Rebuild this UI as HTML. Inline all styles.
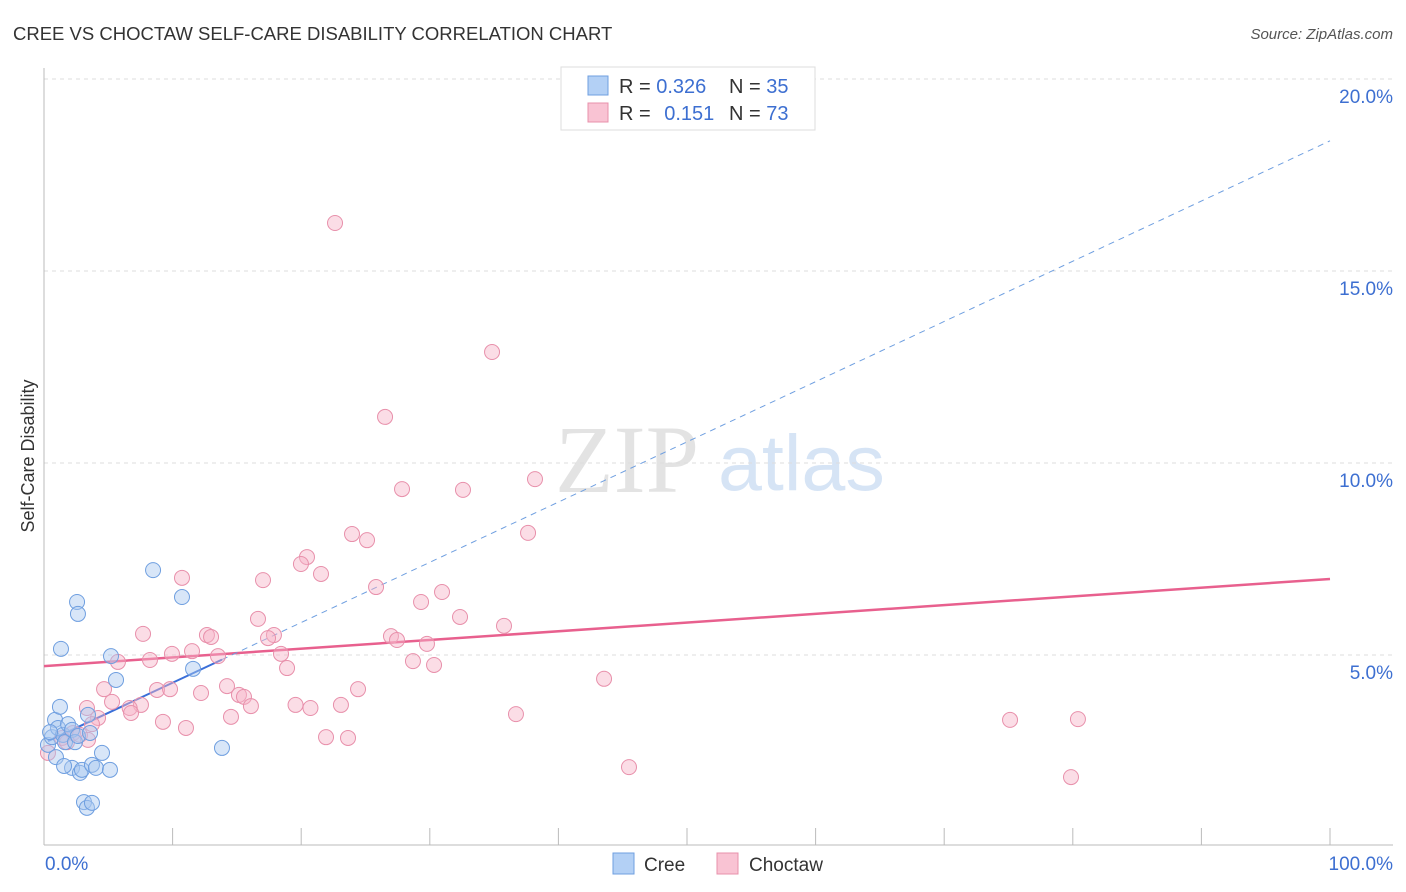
<!DOCTYPE html>
<html><head><meta charset="utf-8"><style>
body{margin:0;background:#fff;width:1406px;height:892px;overflow:hidden;font-family:"Liberation Sans",sans-serif}
svg{display:block}
</style></head><body>
<svg id="chart" width="1406" height="892">
<text x="13" y="40" font-size="18.5" fill="#333">CREE VS CHOCTAW SELF-CARE DISABILITY CORRELATION CHART</text>
<text x="1393" y="39" font-size="15" font-style="italic" fill="#555" text-anchor="end">Source: ZipAtlas.com</text>
<text transform="translate(34,456) rotate(-90)" font-size="18" fill="#333" text-anchor="middle">Self-Care Disability</text>
<g>
<text x="555" y="492" font-family="Liberation Serif,serif" font-size="96" fill="#d8d8d8" opacity="0.7">ZIP</text>
<text x="718" y="490" font-size="79" fill="#bcd3f0" opacity="0.6">atlas</text>
</g>
<g id="grid"></g><g id="axes"></g><g id="lines"></g><g id="points"></g>
<g>
<rect x="561" y="67" width="254" height="63" fill="#fff" stroke="#ddd"/>
<rect x="588" y="76" width="20" height="19" fill="#b3d0f5" stroke="#6f9fe0"/>
<rect x="588" y="103" width="20" height="19" fill="#f9c3d3" stroke="#e890ab"/>
<text x="619" y="93" font-size="20" fill="#333">R = <tspan fill="#3d6fd1">0.326</tspan></text>
<text x="729" y="93" font-size="20" fill="#333">N = <tspan fill="#3d6fd1">35</tspan></text>
<text x="619" y="120" font-size="20" fill="#333">R = <tspan fill="#3d6fd1" dx="8">0.151</tspan></text>
<text x="729" y="120" font-size="20" fill="#333">N = <tspan fill="#3d6fd1">73</tspan></text>
</g>
<g>
<rect x="613" y="853" width="21" height="21" fill="#b3d0f5" stroke="#6f9fe0"/>
<text x="644" y="871" font-size="19" fill="#333">Cree</text>
<rect x="717" y="853" width="21" height="21" fill="#f9c3d3" stroke="#e890ab"/>
<text x="749" y="871" font-size="19" fill="#333">Choctaw</text>
</g>
</svg>
<script>
const yTicks=[5,10,15,20];
const yTickLabels=["5.0%","10.0%","15.0%","20.0%"];
const xTicks=[0,10,20,30,40,50,60,70,80,90,100];
const creeX=[0.31,0.62,0.86,1.09,1.24,1.48,1.63,1.87,2.18,2.41,2.64,1.32,2.57,2.64,3.42,3.58,2.18,2.80,2.95,3.73,4.04,4.51,5.13,3.11,3.34,3.73,5.21,5.60,8.48,10.73,11.59,13.84,0.93,0.47,1.56];
const creeY=[2.66,2.86,3.31,3.10,3.65,2.92,2.73,3.20,3.05,2.73,2.89,5.16,6.38,6.07,3.44,2.97,2.06,1.93,2.01,2.14,2.06,2.45,2.01,1.17,1.02,1.15,4.97,4.35,7.21,6.51,4.64,2.58,2.34,2.99,2.11];
const choctawX=[22.63,34.84,26.52,27.84,32.58,38.18,23.95,25.12,37.64,20.45,19.98,21.54,17.03,10.73,25.82,30.95,29.32,32.35,16.64,35.77,7.70,12.67,12.99,17.88,17.42,26.98,27.45,29.78,9.95,11.51,13.53,8.24,5.75,18.43,28.69,30.33,18.90,43.55,4.67,8.79,9.80,14.23,12.21,15.16,15.55,24.42,5.29,7.54,6.66,16.09,19.56,20.72,23.09,3.34,6.77,14.54,36.70,4.20,3.73,9.25,11.04,75.12,80.40,21.93,23.64,2.26,2.80,1.40,3.42,0.31,45.49,79.86,1.79];
const choctawY=[16.25,12.89,11.20,9.32,9.30,9.58,8.15,7.99,8.18,7.55,7.37,7.11,6.95,7.01,6.77,6.64,6.38,5.99,5.94,5.76,5.55,5.52,5.47,5.52,5.44,5.49,5.39,5.29,5.03,5.10,4.97,4.87,4.82,5.03,4.84,4.74,4.66,4.38,4.11,4.09,4.11,4.19,4.01,3.96,3.91,4.11,3.78,3.70,3.62,3.67,3.70,3.62,3.70,3.62,3.49,3.39,3.46,3.36,3.20,3.26,3.10,3.31,3.33,2.86,2.84,2.97,2.92,2.84,2.79,2.45,2.08,1.82,2.73];
const creeTrend=[2.71,0.1568];   // intercept, slope
const choctawTrend=[4.71,0.0227];
const sx=v=>44+v*12.86;
const sy=v=>847-v*38.4;
const NS='http://www.w3.org/2000/svg';
function mk(tag,attrs,parent){const e=document.createElementNS(NS,tag);for(const k in attrs)e.setAttribute(k,attrs[k]);document.getElementById(parent).appendChild(e);return e;}
yTicks.forEach((t,i)=>{
  const g=mk('line',{x1:44,x2:1393,y1:sy(t),y2:sy(t),stroke:'#ddd','stroke-dasharray':'4,4'},'grid');
  
  
  const l=mk('text',{x:1393,y:sy(t)+24,'font-size':19,fill:'#3d6fd1','text-anchor':'end'},'grid');
  l.textContent=yTickLabels[i];
  
  
});
const ax=mk('line',{x1:44,x2:44,y1:68,y2:845,stroke:'#bbb'},'axes');


const bx=mk('line',{x1:44,x2:1393,y1:845,y2:845,stroke:'#bbb'},'axes');


xTicks.forEach(t=>{
  const k=mk('line',{x1:sx(t),x2:sx(t),y1:828,y2:845,stroke:'#bbb'},'axes');
  
  
});
const x0=mk('text',{x:45,y:870,'font-size':19,fill:'#3d6fd1'},'axes');x0.textContent='0.0%';


const x1=mk('text',{x:1393,y:870,'font-size':19,fill:'#3d6fd1','text-anchor':'end'},'axes');x1.textContent='100.0%';


function pts(xs,ys,fill,stroke,name){xs.forEach((x,i)=>{
  const c=mk('circle',{cx:sx(x),cy:sy(ys[i]),r:7.5,fill:fill,'fill-opacity':0.45,stroke:stroke,'stroke-width':1},'points');
  
  
});}
pts(choctawX,choctawY,'#f7b3c8','#e890ab','choctaw-point');
pts(creeX,creeY,'#a8c8f0','#6f9fe0','cree-point');
const cmax=Math.max(...creeX);
const tl=mk('line',{x1:sx(0),y1:sy(choctawTrend[0]),x2:sx(100),y2:sy(choctawTrend[0]+choctawTrend[1]*100),stroke:'#e8608e','stroke-width':2.5},'lines');


const bd=mk('line',{x1:sx(cmax),y1:sy(creeTrend[0]+creeTrend[1]*cmax),x2:sx(100),y2:sy(creeTrend[0]+creeTrend[1]*100),stroke:'#6f9fe0','stroke-width':1,'stroke-dasharray':'6,5'},'lines');


const bs=mk('line',{x1:sx(Math.min(...creeX)),y1:sy(creeTrend[0]+creeTrend[1]*Math.min(...creeX)),x2:sx(cmax),y2:sy(creeTrend[0]+creeTrend[1]*cmax),stroke:'#3b6fd8','stroke-width':2},'lines');


</script>
</body></html>
